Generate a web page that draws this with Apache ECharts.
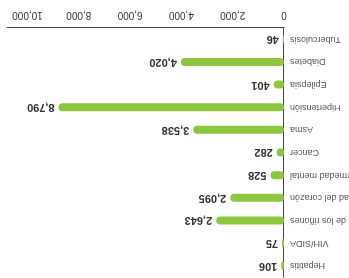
<!DOCTYPE html>
<html>
<head>
<meta charset="utf-8">
<script src="https://cdn.jsdelivr.net/npm/echarts@6/dist/echarts.min.js"></script>
<style>
  html, body { margin: 0; padding: 0; background: #fff; }
  /* the reference picture is upside down, so the whole chart is turned */
  #chart { width: 349px; height: 278px; transform: rotate(180deg); }
</style>
</head>
<body>
<div id="chart"></div>
<script>
// categories, top to bottom
const categories = [
  'Hepatitis',
  'VIH/SIDA',
  'Enfermedad de los riñones',
  'Enfermedad del corazón',
  'Enfermedad mental',
  'Cancer',
  'Asma',
  'Hipertensión',
  'Epilepsia',
  'Diabetes',
  'Tuberculosis'
]
const values = [106, 75, 2643, 2095, 528, 282, 3538, 8790, 401, 4020, 46]

const chart = echarts.init(document.getElementById('chart'))
chart.setOption({
  animation: false,
  backgroundColor: '#fff',
  grid: { left: 65, right: 7, top: 1, bottom: 28, containLabel: false, outerBoundsMode: 'none' },
  xAxis: {
    type: 'value',
    min: 0,
    max: 10800,
    interval: 2000,
    splitLine: { show: false },
    axisTick: { show: false },
    axisLine: { show: true, lineStyle: { color: '#444', width: 1 } },
    axisLabel: {
      showMaxLabel: false,
      color: '#333',
      fontSize: 10,
      fontFamily: 'Liberation Sans',
      margin: 8,
      formatter: v => v.toLocaleString('en-US')
    }
  },
  yAxis: {
    type: 'category',
    inverse: true,
    data: categories,
    axisTick: { show: false },
    axisLine: { show: true, lineStyle: { color: '#444', width: 1 } },
    axisLabel: { color: '#555', fontSize: 9, fontFamily: 'Liberation Sans', margin: 6 }
  },
  series: [{
    type: 'bar',
    data: values,
    barWidth: 8,
    itemStyle: { color: '#8dc63f', borderRadius: 4 },
    label: {
      show: true,
      position: 'right',
      distance: 4,
      color: '#333',
      fontSize: 11,
      fontWeight: 'bold',
      fontFamily: 'Liberation Sans',
      formatter: p => p.value.toLocaleString('en-US')
    }
  }]
})
</script>
</body>
</html>
